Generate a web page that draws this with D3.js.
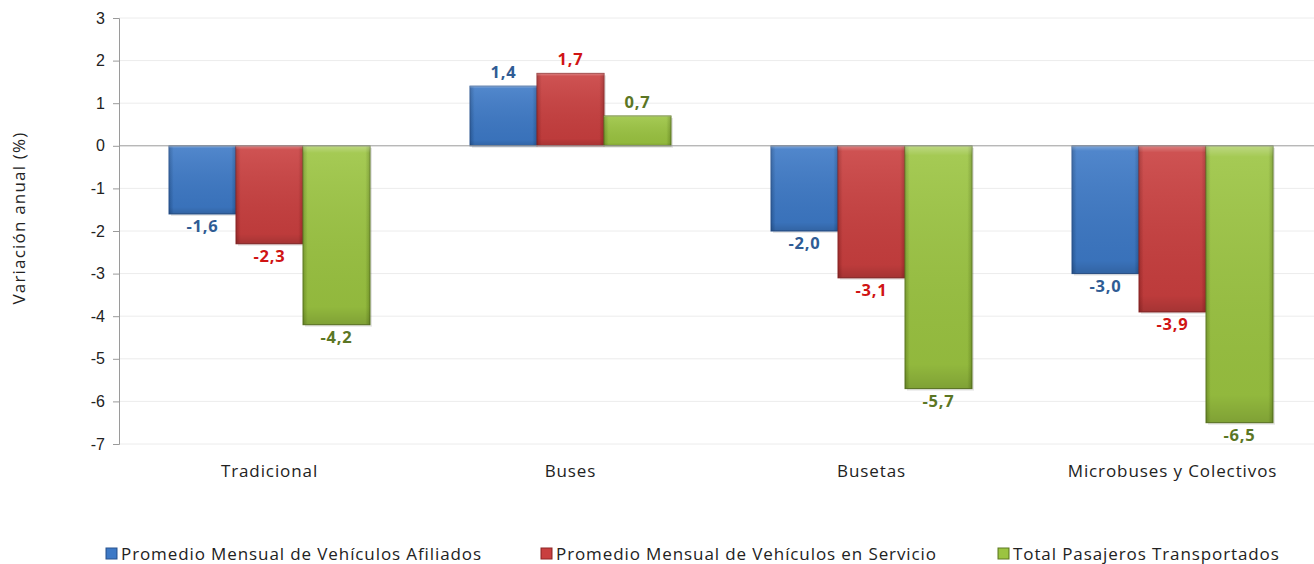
<!DOCTYPE html>
<html><head><meta charset="utf-8">
<script src="https://cdn.jsdelivr.net/npm/d3@7"></script>
<style>body{margin:0;background:#fff;} svg{display:block;font-family:"Open Sans","Liberation Sans",sans-serif;}</style>
</head><body><div id="chart"></div>
<script>
const categories = ["Tradicional", "Buses", "Busetas", "Microbuses y Colectivos"];
const seriesNames = ["Promedio Mensual de Vehículos Afiliados", "Promedio Mensual de Vehículos en Servicio", "Total Pasajeros Transportados"];
const afiliados = [-1.6, 1.4, -2.0, -3.0];
const enServicio = [-2.3, 1.7, -3.1, -3.9];
const pasajeros = [-4.2, 0.7, -5.7, -6.5];
const yTicks = [3, 2, 1, 0, -1, -2, -3, -4, -5, -6, -7];
const yTitle = "Variación anual (%)";

const series = [afiliados, enServicio, pasajeros];
const fills = [["#5b97dd", "#3d79c6", "#2b5e9f"], ["#e25a5a", "#c93f3f", "#a52c2c"], ["#b5da5e", "#9bc441", "#7a9e2c"]];
const strokes = ["#2a5590", "#8e2626", "#5f7a22"];
const labelColors = ["#2f5c94", "#d01414", "#5b7624"];

const W = 1314, H = 564;
const m = {left: 119};
const svg = d3.select("#chart").append("svg").attr("width", W).attr("height", H);
const defs = svg.append("defs");
fills.forEach((f, i) => {
  const g = defs.append("linearGradient").attr("id", "g" + i).attr("x1", 0).attr("x2", 1).attr("y1", 0).attr("y2", 0);
  g.append("stop").attr("offset", "0%").attr("stop-color", f[2]);
  g.append("stop").attr("offset", "7%").attr("stop-color", f[1]);
  g.append("stop").attr("offset", "50%").attr("stop-color", f[1]);
  g.append("stop").attr("offset", "93%").attr("stop-color", f[1]);
  g.append("stop").attr("offset", "100%").attr("stop-color", f[2]);
  const v = defs.append("linearGradient").attr("id", "v" + i).attr("x1", 0).attr("x2", 0).attr("y1", 0).attr("y2", 1);
  v.append("stop").attr("offset", "0%").attr("stop-color", "#fff").attr("stop-opacity", 0.35);
  v.append("stop").attr("offset", "4%").attr("stop-color", "#fff").attr("stop-opacity", 0.1);
  v.append("stop").attr("offset", "90%").attr("stop-color", "#000").attr("stop-opacity", 0.06);
  v.append("stop").attr("offset", "100%").attr("stop-color", "#000").attr("stop-opacity", 0.18);
});

const y = d3.scaleLinear().domain([-7, 3]).range([444, 18]);
const x0 = d3.scaleBand().domain(categories).range([m.left, m.left + 4 * 301]).paddingInner(100 / 301).paddingOuter(50 / 301);
const x1 = d3.scaleBand().domain([0, 1, 2]).range([0, x0.bandwidth()]);

// gridlines
svg.append("g").selectAll("line").data(yTicks.filter(t => t !== 0)).join("line")
  .attr("x1", m.left).attr("x2", W).attr("y1", d => y(d)).attr("y2", d => y(d))
  .attr("stroke", "#ececec").attr("stroke-width", 1);

// y axis
const yAxis = svg.append("g").attr("transform", `translate(${m.left},0)`)
  .call(d3.axisLeft(y).tickValues(yTicks).tickSize(6).tickPadding(8).tickFormat(d => String(d)));
yAxis.select(".domain").attr("stroke", "#9a9a9a");
yAxis.selectAll(".tick line").attr("stroke", "#9a9a9a");
yAxis.selectAll("text").attr("font-size", 16).attr("fill", "#222");

// bars
categories.forEach((c, ci) => {
  series.forEach((s, si) => {
    const v = s[ci];
    const bx = x0(c) + x1(si);
    const bw = x1.bandwidth();
    const top = v >= 0 ? y(v) : y(0);
    const h = Math.abs(y(v) - y(0));
    svg.append("rect").attr("x", bx + 2).attr("y", top + 2).attr("width", bw).attr("height", h)
      .attr("fill", "#000").attr("opacity", 0.1);
    svg.append("rect").attr("x", bx).attr("y", top).attr("width", bw).attr("height", h)
      .attr("fill", `url(#g${si})`).attr("stroke", strokes[si]).attr("stroke-width", 1);
    svg.append("rect").attr("x", bx).attr("y", top).attr("width", bw).attr("height", h)
      .attr("fill", `url(#v${si})`);
    svg.append("text").attr("x", bx + bw / 2)
      .attr("y", v >= 0 ? y(v) - 8 : y(v) + 18)
      .attr("text-anchor", "middle").attr("font-size", 16.5).attr("font-weight", "bold")
      .attr("letter-spacing", 0.8)
      .attr("fill", labelColors[si]).text(d3.format(".1f")(v).replace(".", ",").replace("−", "-"));
  });
});

// zero line
svg.append("line").attr("x1", m.left).attr("x2", W).attr("y1", y(0)).attr("y2", y(0))
  .attr("stroke", "#9a9a9a").attr("stroke-width", 1);

// category labels
svg.append("g").selectAll("text").data(categories).join("text")
  .attr("x", d => x0(d) + x0.bandwidth() / 2).attr("y", 477)
  .attr("text-anchor", "middle").attr("font-size", 17).attr("letter-spacing", 0.9)
  .attr("fill", "#222").text(d => d);

// y title
svg.append("text").attr("transform", "translate(25,218) rotate(-90)")
  .attr("text-anchor", "middle").attr("font-size", 17).attr("letter-spacing", 1.2)
  .attr("fill", "#222").text(yTitle);

// legend
const legX = [106, 541, 998];
seriesNames.forEach((n, i) => {
  const g = svg.append("g").attr("transform", `translate(${legX[i]},548)`);
  g.append("rect").attr("x", 0).attr("y", 0).attr("width", 11).attr("height", 11)
    .attr("fill", `url(#g${i})`).attr("stroke", strokes[i]);
  g.append("text").attr("x", 15).attr("y", 12).attr("font-size", 17).attr("letter-spacing", 0.9)
    .attr("fill", "#222").text(n);
});
</script></body></html>
